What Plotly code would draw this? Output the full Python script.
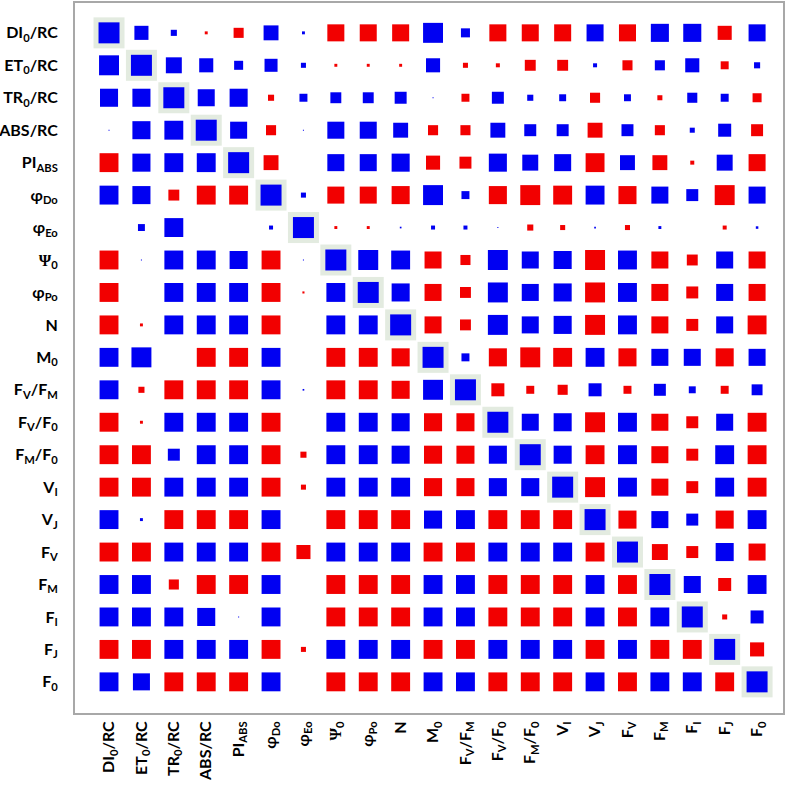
import plotly.graph_objects as go

labels = ["DI<sub>0</sub>/RC", "ET<sub>0</sub>/RC", "TR<sub>0</sub>/RC", "ABS/RC", "PI<sub>ABS</sub>",
          "φ<sub>Do</sub>", "φ<sub>Eo</sub>", "<span style='font-family:Liberation Serif'>Ψ</span><sub>0</sub>",
          "φ<sub>Po</sub>", "N", "M<sub>0</sub>",
          "F<sub>V</sub>/F<sub>M</sub>", "F<sub>V</sub>/F<sub>0</sub>", "F<sub>M</sub>/F<sub>0</sub>",
          "V<sub>I</sub>", "V<sub>J</sub>", "F<sub>V</sub>", "F<sub>M</sub>", "F<sub>I</sub>", "F<sub>J</sub>", "F<sub>0</sub>"]

# correlation-like values (positive = blue, negative = red)
r_DI0 = [1.0, 0.67, 0.29, -0.14, -0.48, 0.71, 0.14, -0.81, -0.81, -0.81, 0.95, 0.43, -0.81, -0.81, -0.81, 0.81, -0.81, 0.86, 0.86, -0.67, 0.81]
r_ET0 = [0.95, 1.0, 0.76, 0.67, 0.43, 0.62, 0.24, -0.14, -0.14, -0.14, 0.67, -0.24, -0.19, -0.52, -0.52, 0.19, -0.48, 0.48, 0.67, -0.38, 0.29]
r_TR0 = [0.86, 0.86, 1.0, 0.81, 0.86, -0.29, 0.38, 0.52, 0.52, 0.57, 0.05, -0.38, 0.57, 0.29, 0.33, -0.48, 0.33, -0.24, 0.48, 0.38, -0.43]
r_ABS = [0.05, 0.86, 0.9, 1.0, 0.81, -0.48, 0.05, 0.81, 0.81, 0.71, -0.48, -0.48, 0.71, 0.57, 0.57, -0.71, 0.57, -0.48, 0.24, 0.62, -0.57]
r_PI = [-0.9, 0.86, 0.9, 0.9, 1.0, -0.71, 0.0, 0.81, 0.81, 0.86, -0.67, -0.57, 0.86, 0.76, 0.81, -0.9, 0.71, -0.71, -0.19, 0.76, -0.81]
r_phiDo = [0.9, 0.86, -0.52, -0.9, -0.9, 1.0, 0.24, -0.81, -0.81, -0.86, 0.95, 0.38, -0.86, -0.95, -0.9, 0.9, -0.86, 0.81, 0.57, -0.95, 0.81]
r_phiEo = [0.0, 0.33, 0.9, 0.0, 0.0, 0.19, 1.0, -0.14, -0.14, 0.08, 0.19, 0.19, 0.05, -0.29, -0.24, 0.08, -0.24, 0.14, 0.0, -0.19, 0.12]
r_Psi0 = [-0.9, 0.05, 0.9, 0.9, 0.86, -0.9, 0.05, 1.0, 0.95, 0.9, -0.81, -0.48, 0.95, 0.81, 0.86, -0.95, 0.9, -0.81, -0.52, 0.81, -0.81]
r_phiPo = [-0.9, 0.0, 0.9, 0.9, 0.9, -0.9, -0.1, 0.9, 1.0, 0.86, -0.81, -0.52, 0.95, 0.81, 0.86, -0.95, 0.9, -0.81, -0.57, 0.81, -0.81]
r_N = [-0.9, -0.14, 0.9, 0.9, 0.9, -0.9, 0.0, 0.9, 0.9, 1.0, -0.81, -0.52, 0.95, 0.81, 0.86, -0.95, 0.9, -0.81, -0.57, 0.81, -0.9]
r_M0 = [0.9, 0.95, 0.0, -0.9, -0.9, 0.9, 0.0, -0.9, -0.9, -0.86, 1.0, 0.38, -0.86, -0.95, -0.9, 0.9, -0.86, 0.81, 0.81, -0.86, 0.81]
r_FVFM = [0.9, -0.29, -0.9, -0.9, -0.9, 0.9, 0.08, -0.9, -0.9, -0.86, 0.95, 1.0, -0.62, -0.38, -0.48, 0.62, -0.38, 0.57, 0.33, -0.38, 0.52]
r_FVF0 = [-0.9, -0.14, 0.9, 0.9, 0.9, -0.9, 0.0, 0.9, 0.9, 0.86, -0.86, -0.86, 1.0, 0.81, 0.86, -0.95, 0.9, -0.81, -0.57, 0.81, -0.9]
r_FMF0 = [-0.9, -0.9, 0.57, 0.9, 0.9, -0.9, -0.29, 0.9, 0.9, 0.86, -0.86, -0.86, 0.86, 1.0, 0.86, -0.9, 0.9, -0.81, -0.57, 0.9, -0.9]
r_VI = [-0.9, -0.9, 0.9, 0.9, 0.9, -0.9, -0.24, 0.9, 0.9, 0.9, -0.86, -0.86, 0.86, 0.86, 1.0, -0.95, 0.9, -0.81, -0.57, 0.9, -0.9]
r_VJ = [0.9, 0.14, -0.9, -0.9, -0.9, 0.9, 0.0, -0.9, -0.9, -0.9, 0.86, 0.9, -0.9, -0.9, -0.9, 1.0, -0.86, 0.81, 0.57, -0.86, 0.9]
r_FV = [-0.9, -0.9, 0.9, 0.9, 0.9, -0.9, -0.67, 0.9, 0.9, 0.9, -0.9, -0.9, 0.9, 0.9, 0.9, -0.9, 1.0, -0.76, -0.57, 0.86, -0.81]
r_FM = [0.9, 0.9, -0.48, -0.9, -0.9, 0.9, 0.0, -0.9, -0.9, -0.9, 0.9, 0.9, -0.9, -0.9, -0.9, 0.9, -0.9, 1.0, 0.81, -0.62, 0.9]
r_FI = [0.9, 0.9, 0.9, 0.86, 0.05, 0.9, 0.0, -0.9, -0.9, -0.9, 0.9, 0.9, -0.9, -0.9, -0.9, 0.9, -0.9, 0.9, 1.0, -0.24, 0.62]
r_FJ = [-0.9, -0.9, 0.9, 0.9, 0.9, -0.9, -0.24, 0.9, 0.9, 0.9, -0.9, -0.9, 0.9, 0.9, 0.9, -0.9, 0.9, -0.9, -0.9, 1.0, -0.67]
r_F0 = [0.9, 0.81, -0.9, -0.9, -0.9, 0.9, 0.0, -0.9, -0.9, -0.9, 0.9, 0.9, -0.9, -0.9, -0.9, 0.9, -0.9, 0.9, 0.9, -0.9, 1.0]

matrix = [r_DI0, r_ET0, r_TR0, r_ABS, r_PI, r_phiDo, r_phiEo, r_Psi0, r_phiPo, r_N, r_M0,
          r_FVFM, r_FVF0, r_FMF0, r_VI, r_VJ, r_FV, r_FM, r_FI, r_FJ, r_F0]

n = len(labels)
MAXPX = 21

px, py, ps = [], [], []
nx, ny, ns = [], [], []
for i, row in enumerate(matrix):
    for j, v in enumerate(row):
        if v == 0:
            continue
        if v > 0:
            px.append(j); py.append(i); ps.append(abs(v) * MAXPX)
        else:
            nx.append(j); ny.append(i); ns.append(abs(v) * MAXPX)

fig = go.Figure()
fig.add_trace(go.Scatter(
    x=list(range(n)), y=list(range(n)), mode="markers",
    marker=dict(symbol="square", size=31, color="#e3ebe0", opacity=1, line=dict(width=0)),
    hoverinfo="skip", showlegend=False))
fig.add_trace(go.Scatter(
    x=px, y=py, mode="markers",
    marker=dict(symbol="square", size=ps, color="#0000f2", opacity=1, line=dict(width=0)),
    showlegend=False))
fig.add_trace(go.Scatter(
    x=nx, y=ny, mode="markers",
    marker=dict(symbol="square", size=ns, color="#f20000", opacity=1, line=dict(width=0)),
    showlegend=False))

yfont = dict(family="Lato, 'Liberation Sans', sans-serif", size=16, color="black", weight="bold")
xfont = dict(family="Lato, 'Liberation Sans', sans-serif", size=16, color="black", weight="bold")

fig.update_layout(
    width=788, height=785,
    margin=dict(l=75, r=5, t=3, b=72),
    plot_bgcolor="white", paper_bgcolor="white",
    xaxis=dict(range=[-1.05, 20.8], tickmode="array", tickvals=list(range(n)), ticktext=labels,
               tickangle=-90, showgrid=False, zeroline=False, showline=True, mirror=True,
               linecolor="#a8a8a8", linewidth=2, ticks="", tickfont=xfont,
               ticklabelstandoff=0, automargin=False, fixedrange=True),
    yaxis=dict(range=[20.96, -0.92], tickmode="array", tickvals=list(range(n)), ticktext=labels,
               showgrid=False, zeroline=False, showline=True, mirror=True,
               linecolor="#a8a8a8", linewidth=2, ticks="", tickfont=yfont,
               ticklabelstandoff=12, automargin=False, fixedrange=True),
)

fig.write_html("out.html", config={"displayModeBar": False},
               post_script="document.body.style.margin='0';document.body.style.overflow='hidden';")
